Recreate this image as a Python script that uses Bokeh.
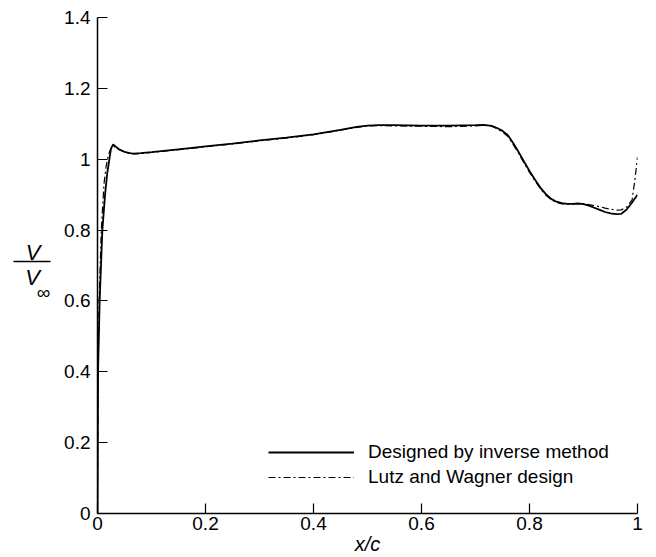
from bokeh.plotting import figure
from bokeh.layouts import row
from bokeh.models import Legend, LegendItem, FixedTicker, Range1d
from bokeh.core.properties import value
from bokeh.embed import file_html
from bokeh.resources import INLINE

# Designed by inverse method (solid)
x_inverse = [0, 0.001, 0.004, 0.009, 0.014, 0.018, 0.022, 0.025, 0.029, 0.035, 0.04, 0.05,
             0.06, 0.067, 0.08, 0.1, 0.15, 0.2, 0.25, 0.3, 0.35, 0.4, 0.45, 0.48, 0.5, 0.52,
             0.55, 0.6, 0.65, 0.7, 0.715, 0.73, 0.74, 0.75, 0.76, 0.77, 0.78, 0.79, 0.8,
             0.81, 0.82, 0.83, 0.84, 0.85, 0.86, 0.87, 0.88, 0.89, 0.9, 0.91, 0.92, 0.93,
             0.94, 0.95, 0.96, 0.97, 0.98, 0.99, 1.0]
v_inverse = [0, 0.4, 0.6, 0.8, 0.9, 0.96, 1.0, 1.03, 1.042, 1.034, 1.028, 1.021,
             1.017, 1.016, 1.017, 1.02, 1.028, 1.036, 1.044, 1.053, 1.061, 1.07, 1.083,
             1.091, 1.095, 1.096, 1.096, 1.095, 1.095, 1.096, 1.097, 1.094, 1.088, 1.08,
             1.068, 1.045, 1.02, 0.993, 0.967, 0.943, 0.92, 0.902, 0.888, 0.88, 0.876,
             0.874, 0.874, 0.875, 0.873, 0.869, 0.863, 0.857, 0.851, 0.847, 0.845, 0.846,
             0.858, 0.878, 0.9]

# Lutz and Wagner design (dash-dot)
x_lutz = [0, 0.001, 0.003, 0.007, 0.012, 0.016, 0.02, 0.024, 0.029, 0.035, 0.04, 0.05,
          0.06, 0.067, 0.08, 0.1, 0.15, 0.2, 0.25, 0.3, 0.35, 0.4, 0.45, 0.48, 0.5, 0.52,
          0.55, 0.6, 0.65, 0.7, 0.715, 0.73, 0.74, 0.75, 0.76, 0.77, 0.78, 0.79, 0.8,
          0.81, 0.82, 0.83, 0.84, 0.85, 0.86, 0.87, 0.88, 0.89, 0.9, 0.91, 0.92, 0.93,
          0.94, 0.95, 0.96, 0.97, 0.98, 0.99, 0.995, 1.0]
v_lutz = [0, 0.4, 0.6, 0.8, 0.93, 0.98, 1.01, 1.028, 1.038, 1.032, 1.027, 1.02,
          1.016, 1.015, 1.016, 1.019, 1.027, 1.035, 1.043, 1.052, 1.06, 1.069, 1.082,
          1.09, 1.094, 1.095, 1.094, 1.093, 1.092, 1.094, 1.096, 1.093, 1.086, 1.077,
          1.064, 1.041, 1.016, 0.989, 0.963, 0.939, 0.917, 0.899, 0.886, 0.878, 0.874,
          0.873, 0.874, 0.875, 0.874, 0.872, 0.869, 0.866, 0.862, 0.859, 0.856, 0.857,
          0.865, 0.885, 0.94, 1.005]

x_ticks = [0, 0.2, 0.4, 0.6, 0.8, 1.0]
x_tick_labels = ["0", "0.2", "0.4", "0.6", "0.8", "1"]
y_ticks = [0, 0.2, 0.4, 0.6, 0.8, 1.0, 1.2, 1.4]
y_tick_labels = ["0", "0.2", "0.4", "0.6", "0.8", "1", "1.2", "1.4"]

FONT = "Liberation Sans"
W, H, LW = 656, 557, 60
TOP, BOTTOM = 17, 40

p = figure(width=W - LW, height=H, output_backend="svg", toolbar_location=None,
           x_range=Range1d(0, 1), y_range=Range1d(0, 1.4),
           min_border_left=97 - LW, min_border_right=19, min_border_top=TOP, min_border_bottom=BOTTOM)
p.outline_line_color = None
p.grid.visible = False
p.background_fill_color = "white"
p.border_fill_color = "white"

for ax, ticks, labels in ((p.xaxis[0], x_ticks, x_tick_labels), (p.yaxis[0], y_ticks, y_tick_labels)):
    ax.ticker = FixedTicker(ticks=ticks)
    ax.major_label_overrides = {t: l for t, l in zip(ticks, labels)}
    ax.major_tick_in = 10
    ax.major_tick_out = 0
    ax.minor_tick_line_color = None
    ax.axis_line_width = 1.5
    ax.major_tick_line_width = 1.2
    ax.major_label_text_font = FONT
    ax.major_label_text_font_size = "19px"
    ax.major_label_text_color = "black"
    ax.axis_line_color = "black"
    ax.major_tick_line_color = "black"

p.xaxis.major_label_standoff = 3
p.yaxis.major_label_standoff = 7
p.xaxis.axis_label = "x/c"
p.xaxis.axis_label_text_font = FONT
p.xaxis.axis_label_text_font_style = "italic"
p.xaxis.axis_label_text_font_size = "20px"
p.xaxis.axis_label_standoff = 0
p.xaxis.axis_label_text_color = "black"

r1 = p.line(x_inverse, v_inverse, line_color="black", line_width=1.8)
r2 = p.line(x_lutz, v_lutz, line_color="black", line_width=1.2, line_dash="7 3 2 3")

legend = Legend(items=[LegendItem(label="Designed by inverse method", renderers=[r1]),
                       LegendItem(label="Lutz and Wagner design", renderers=[r2])],
                location=(171, 25))
legend.border_line_color = None
legend.background_fill_alpha = 0
legend.glyph_width = 86
legend.glyph_height = 20
legend.label_height = 20
legend.label_standoff = 14
legend.padding = 0
legend.margin = 0
legend.spacing = 3
legend.label_text_font = FONT
legend.label_text_font_size = "19px"
legend.label_text_color = "black"
p.add_layout(legend)

# narrow panel on the left holding the y-axis label V / V_inf
# (its frame matches the main frame; coordinates are page pixels, y downward)
lab = figure(width=LW, height=H, output_backend="svg", toolbar_location=None,
             x_range=Range1d(0, LW), y_range=Range1d(H - BOTTOM, TOP),
             x_axis_type=None, y_axis_type=None,
             min_border_left=0, min_border_right=0, min_border_top=TOP, min_border_bottom=BOTTOM)
lab.outline_line_color = None
lab.grid.visible = False
lab.background_fill_color = "white"
lab.border_fill_color = "white"
lab.text(x=[32.5], y=[254], text=["V"], text_font=value(FONT), text_font_style="italic",
         text_font_size="22px", text_align="center", text_baseline="alphabetic", text_color="black")
lab.segment(x0=[13], y0=[263], x1=[50], y1=[263], line_color="black", line_width=1.5)
lab.text(x=[32], y=[279], text=["V"], text_font=value(FONT), text_font_style="italic",
         text_font_size="22px", text_align="center", text_baseline="alphabetic", text_color="black")
lab.text(x=[43], y=[294], text=["∞"], text_font=value(FONT),
         text_font_size="19px", text_align="center", text_baseline="alphabetic", text_color="black")

layout = row(lab, p, spacing=0)
open("out.html", "w").write(file_html(layout, INLINE))
